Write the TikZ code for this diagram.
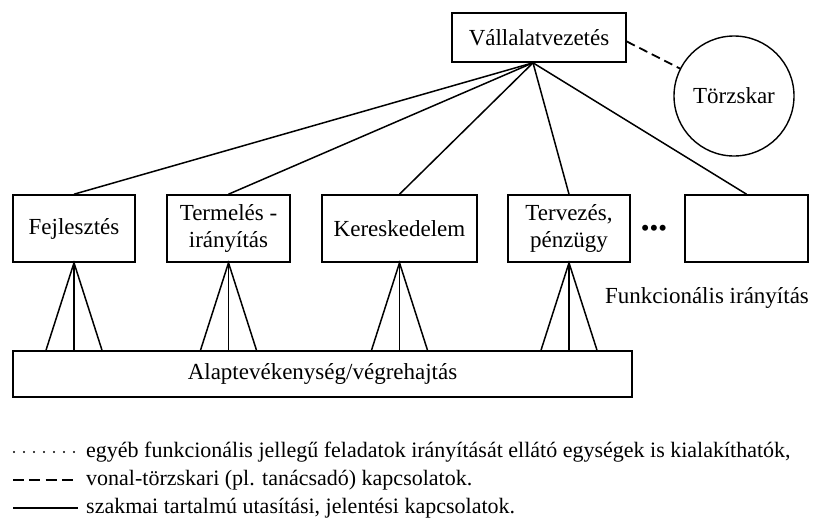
\documentclass[tikz,border=0pt]{standalone}
\usepackage{fontspec}
\setmainfont{Liberation Serif}
\usetikzlibrary{calc}
\begin{document}
\begin{tikzpicture}[x=1pt,y=-1pt,
 box/.style={draw, line width=1.6pt, minimum height=67pt, align=center, font=\fontsize{23}{27}\selectfont, inner sep=0pt},
 conn/.style={line width=1.5pt},
 lbl/.style={font=\fontsize{23}{27}\selectfont, inner sep=0pt},
 leg/.style={font=\fontsize{22}{26}\selectfont, anchor=west, inner sep=0pt},
 legline/.style={line width=1.7pt}]
\useasboundingbox (0,0) rectangle (821,523);
\node[box, minimum width=174pt, minimum height=49pt] (vez) at (539,37.5) {Vállalatvezetés};
\node[draw, circle, line width=1.4pt, minimum size=120pt, lbl] (tor) at (734,96) {Törzskar};
\node[box, minimum width=122pt] (fej) at (74,228.5) {Fejlesztés};
\node[box, minimum width=123pt] (ter) at (228.5,228.5) {Termelés -\\irányítás};
\node[box, minimum width=155pt] (ker) at (399.5,228.5) {Kereskedelem};
\node[box, minimum width=122pt] (tpz) at (569,228.5) {Tervezés,\\pénzügy};
\node[box, minimum width=123pt] (emp) at (746.5,228.5) {};
\node[lbl, font=\fontsize{25}{27}\selectfont] (dots) at (654,231) {•••};
\node[box, minimum width=619pt, minimum height=46pt] (alap) at (322.5,374) {Alaptevékenység/végrehajtás};
\node[lbl] (funk) at (707,298) {Funkcionális irányítás};
\coordinate (apex) at ($(vez.south)+(-6,0)$);
\foreach \n in {fej,ter,ker,tpz,emp} \draw[conn] (apex) -- (\n.north);
\draw[conn, line width=1.8pt, dash pattern=on 9pt off 5pt] ($(vez.east)+(0,4)$) -- (tor);
\foreach \n in {fej,ter,ker,tpz} {
  \draw[conn] ($(\n.south |- alap.north)+(-28,0)$) -- (\n.south) -- ($(\n.south |- alap.north)+(28,0)$);
  \draw[conn] (\n.south) -- (\n.south |- alap.north);
}
% legend
\coordinate (d1) at (13,452); \coordinate (d2) at (78,452);
\coordinate (s1) at (13,480); \coordinate (s2) at (78,480);
\coordinate (t1) at (13,508); \coordinate (t2) at (78,508);
\draw[line width=2.2pt, line cap=round, dash pattern=on 0pt off 10pt] ($(d1)+(1,0)$) -- (d2);
\draw[legline, dash pattern=on 11pt off 5.3pt] (s1) -- (s2);
\draw[legline] (t1) -- (t2);
\node[leg] (l1) at (86,452) {egyéb funkcionális jellegű feladatok irányítását ellátó egységek is kialakíthatók,};
\node[leg] (l2) at (86,480) {vonal-törzskari (pl. tanácsadó) kapcsolatok.};
\node[leg] (l3) at (86,508) {szakmai tartalmú utasítási, jelentési kapcsolatok.};
\end{tikzpicture}
\end{document}
